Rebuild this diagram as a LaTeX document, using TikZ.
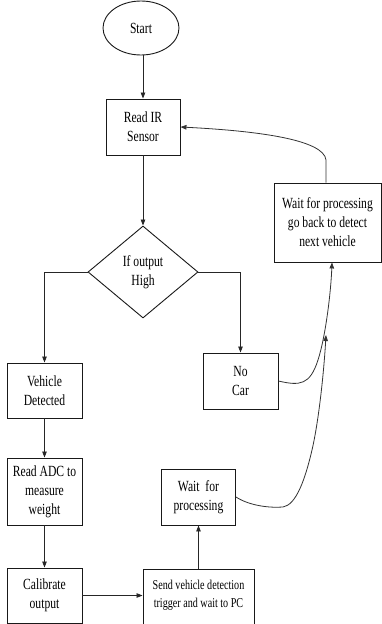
\documentclass[tikz,border=0pt]{standalone}
\usepackage{fontspec}
\setmainfont{Liberation Serif}[FakeStretch=0.75]
\usetikzlibrary{shapes.geometric,arrows.meta,calc}
\begin{document}
\begin{tikzpicture}[x=1pt,y=-1pt,
  every node/.style={font=\fontsize{15.5}{19}\selectfont, text=black, align=center},
  box/.style={draw=black!90, line width=0.9pt, rectangle, inner sep=0pt},
  flow/.style={draw=black!85, line width=0.8pt, -{Triangle[length=6pt,width=4.5pt]}},
  curvearrow/.style={draw=black!80, line width=0.8pt, -{Triangle[length=6pt,width=4.5pt]}}
]
\useasboundingbox (0,0) rectangle (382,624);
\clip (0,0) rectangle (382,624);
\fill[white] (0,0) rectangle (382,624);

\node[ellipse, draw=black!90, line width=0.9pt, minimum width=76pt, minimum height=54pt, inner sep=0pt] (start) at (141,28) {Start};
\node[box, minimum width=74pt, minimum height=56pt] (read) at (143,127) {Read IR\\Sensor};
\node[diamond, draw=black!90, line width=0.9pt, minimum width=110pt, minimum height=92pt, aspect=1.2, inner sep=0pt] (dia) at (143,272) {If output\\High};
\node[box, minimum width=75pt, minimum height=55pt] (veh) at (44.5,390.5) {Vehicle\\Detected};
\node[box, minimum width=75pt, minimum height=67pt] (adc) at (44.5,491.5) {Read ADC to\\measure\\weight};
\node[box, minimum width=75pt, minimum height=55pt] (cal) at (44.5,595.5) {Calibrate\\output};
\node[box, anchor=north, minimum width=111pt, minimum height=66pt, font=\fontsize{13.5}{18}\selectfont] (send) at (198.5,569) {Send vehicle detection\\trigger and wait to PC\\\mbox{}};
\node[box, minimum width=74pt, minimum height=56pt] (wproc) at (198.5,497) {Wait\ \ for\\processing};
\node[box, minimum width=75pt, minimum height=56pt] (nocar) at (240.5,381) {No\\Car};
\node[box, minimum width=107pt, minimum height=79pt] (wback) at (327.5,222.5) {Wait for processing\\go back to detect\\next vehicle};

\draw[flow] (start.south -| read.north) -- (read.north);
\draw[flow] (read.south) -- (dia.north);
\draw[flow] (dia.west) -| (veh.north);
\draw[flow] (dia.east) -| (nocar.north);
\draw[flow] (veh.south) -- (adc.north);
\draw[flow] (adc.south) -- (cal.north);
\draw[flow] (cal.east) -- (cal.east -| send.west);
\draw[flow] (send.north) -- (wproc.south);

\coordinate (join) at (326,335);
\draw[curvearrow] (wproc.east) .. controls (250,506) and (270,508) .. (283,507)
  .. controls (296,505) and (305,480) .. (312,450)
  .. controls (319,420) and (324,370) .. (join);
\draw[curvearrow] (nocar.east) .. controls (300,386) and (310,385) .. (318,360)
  .. controls (326,335) and (331,290) .. ([xshift=4.5pt]wback.south);
\draw[curvearrow] ([xshift=-1.5pt]wback.north) -- (326,160)
  .. controls (324,140) and (260,131) .. (read.east);
\end{tikzpicture}
\end{document}
